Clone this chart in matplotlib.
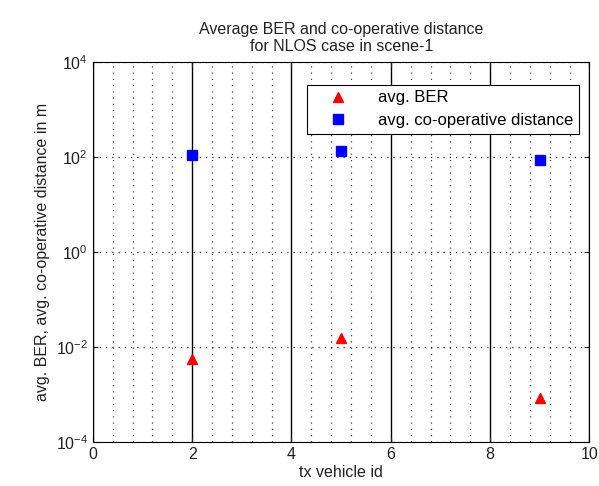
import matplotlib
matplotlib.use('Agg')
from matplotlib import pyplot as plt
from matplotlib.ticker import MultipleLocator, LogLocator, NullLocator

plt.rcParams['font.family'] = ['Liberation Sans', 'DejaVu Sans']

# data
vehicle_id = [2, 5, 9]
avg_ber = [0.0056, 0.0155, 0.00085]
avg_coop_dist = [110, 134, 88]

fig = plt.figure(figsize=(5.99, 4.86), dpi=100)
ax = fig.add_axes([0.155, 0.09, 0.829, 0.782])

ax.semilogy(vehicle_id, avg_ber, '^', color='red', markersize=7, label='avg. BER', zorder=5)
ax.semilogy(vehicle_id, avg_coop_dist, 's', color='blue', markersize=7,
            label='avg. co-operative distance', zorder=5)

ax.set_xlim(0, 10)
ax.set_ylim(1e-4, 1e4)
ax.xaxis.set_major_locator(MultipleLocator(2))
ax.xaxis.set_minor_locator(MultipleLocator(0.4))
ax.yaxis.set_major_locator(LogLocator(base=100))
ax.yaxis.set_minor_locator(NullLocator())

dots = (0, (1, 4))
ax.grid(which='major', axis='x', color='black', linestyle='-', linewidth=1)
ax.grid(which='minor', axis='x', color='#444444', linestyle=dots, linewidth=0.9)
ax.grid(which='major', axis='y', color='#222222', linestyle=dots, linewidth=0.9)
ax.tick_params(which='both', direction='in', top=True, right=True, labelsize=11.5, colors='#222222')
ax.tick_params(which='minor', length=0)
for s in ax.spines.values():
    s.set_color('black')

ax.set_xlabel('tx vehicle id', fontsize=11.5, labelpad=2, color='#222222')
ax.set_ylabel('avg. BER, avg. co-operative distance in m', fontsize=11.5, color='#222222')
ax.set_title('Average BER and co-operative distance\nfor NLOS case in scene-1', fontsize=11.5,
             pad=8, color='#222222')

leg = ax.legend(loc='upper right', fontsize=12, fancybox=False, framealpha=1,
                edgecolor='black', borderpad=0.35, handlelength=3.0, handletextpad=0.9,
                labelspacing=0.45, bbox_to_anchor=(0.995, 0.963))
leg.get_frame().set_linewidth(0.8)

fig.savefig('out.png', dpi=100)
